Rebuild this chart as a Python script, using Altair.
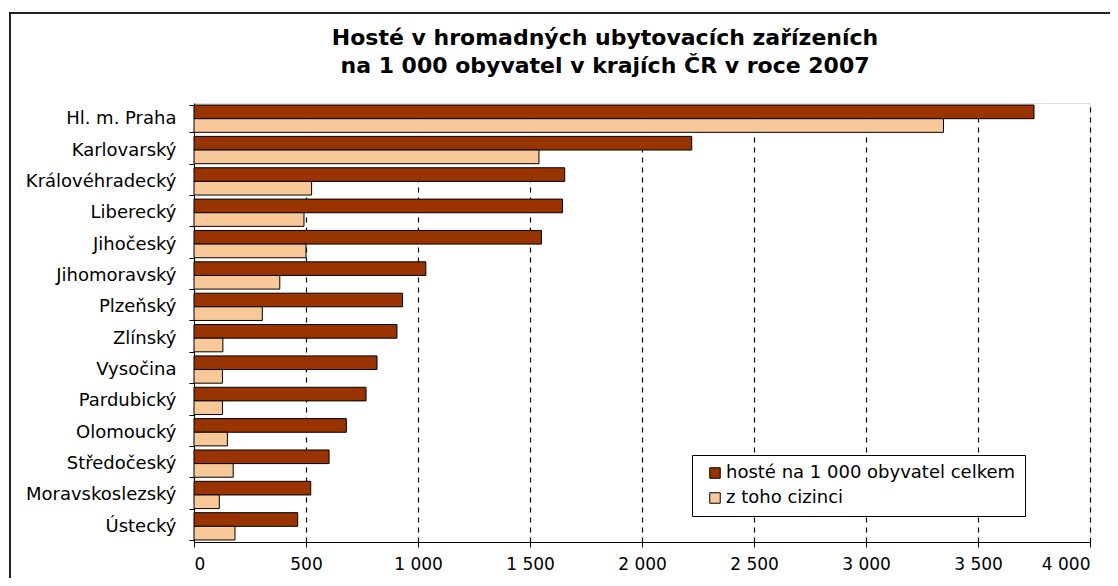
import altair as alt
import pandas as pd

regions = ["Hl. m. Praha", "Karlovarský", "Královéhradecký", "Liberecký", "Jihočeský",
           "Jihomoravský", "Plzeňský", "Zlínský", "Vysočina", "Pardubický",
           "Olomoucký", "Středočeský", "Moravskoslezský", "Ústecký"]
total = [3750, 2222, 1655, 1645, 1551, 1035, 931, 906, 817, 768, 680, 603, 521, 463]
foreign = [3346, 1540, 525, 491, 500, 383, 305, 129, 127, 127, 149, 175, 113, 183]
series = ["hosté na 1 000 obyvatel celkem", "z toho cizinci"]
x_ticks = [0, 500, 1000, 1500, 2000, 2500, 3000, 3500, 4000]
title_lines = ["Hosté v hromadných ubytovacích zařízeních",
               "na 1 000 obyvatel v krajích ČR v roce 2007"]

rows = []
for r, t, f in zip(regions, total, foreign):
    rows.append({"kraj": r, "serie": series[0], "hodnota": t})
    rows.append({"kraj": r, "serie": series[1], "hodnota": f})
df = pd.DataFrame(rows)

W, H = 896, 439
FONT = "DejaVu Sans"
FS = 18

bars = alt.Chart(df).mark_bar(stroke="black", strokeWidth=1).encode(
    x=alt.X("hodnota:Q",
            scale=alt.Scale(domain=[0, 4000], nice=False),
            axis=alt.Axis(values=x_ticks, title=None, grid=True, gridDash=[5, 5],
                          gridColor="black", gridOpacity=1, gridWidth=1.2,
                          domainColor="black", tickColor="black", tickSize=5,
                          labelPadding=9, labelFontSize=17, labelFont=FONT,
                          labelColor="black",
                          labelExpr="replace(format(datum.value, ','), ',', ' ')")),
    y=alt.Y("kraj:N", sort=regions,
            scale=alt.Scale(paddingInner=0.13, paddingOuter=0.065),
            axis=alt.Axis(title=None, tickBand="extent", domainColor="black",
                          tickColor="black", tickSize=5, labelPadding=13,
                          labelFontSize=FS, labelFont=FONT, labelColor="black")),
    yOffset=alt.YOffset("serie:N", sort=series),
    color=alt.Color("serie:N", sort=series,
                    scale=alt.Scale(domain=series, range=["#993300", "#F9C898"]),
                    legend=alt.Legend(title=None, orient="none", legendX=498, legendY=352,
                                      strokeColor="black", fillColor="white",
                                      padding=9, symbolType="square", symbolSize=110,
                                      symbolOffset=5,
                                      symbolStrokeColor="black", symbolStrokeWidth=1,
                                      labelFontSize=FS, labelFont=FONT, labelColor="black",
                                      labelOffset=2, rowPadding=7, labelLimit=400)),
)

frame = alt.Chart(alt.Data(values=[{"a": 1}])).mark_rect(
    fill=None, stroke="#222222", strokeWidth=2
).encode(
    x=alt.value(-184), x2=alt.value(W + 60),
    y=alt.value(-90), y2=alt.value(H + 80),
)

def title_layer(i, yv):
    return alt.Chart(alt.Data(values=[{"t": title_lines[i]}])).mark_text(
        font=FONT, fontSize=22, fontWeight="bold", color="black",
        align="center", baseline="middle"
    ).encode(text="t:N", x=alt.value(W / 2 - 37), y=alt.value(yv))

chart = alt.layer(frame, title_layer(0, -65), title_layer(1, -37), bars).properties(
    width=W, height=H,
    padding={"left": 186, "top": 95, "right": 20, "bottom": 36},
    autosize=alt.AutoSizeParams(type="none"),
).configure_view(stroke="black", strokeWidth=1).configure(background="white")

chart.save("out.html", embed_options={"renderer": "svg", "actions": False})
